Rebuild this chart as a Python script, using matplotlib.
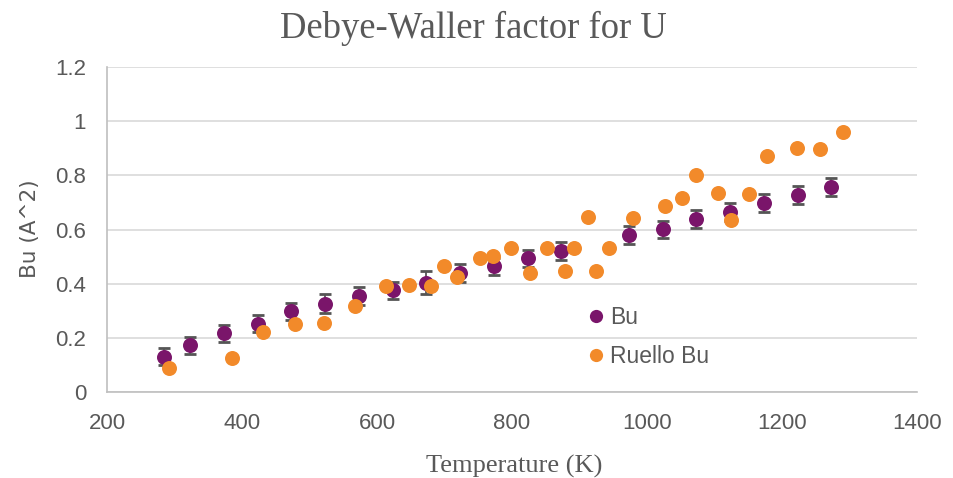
import matplotlib
matplotlib.use("Agg")
import matplotlib.pyplot as plt
from matplotlib.ticker import FuncFormatter
from matplotlib.lines import Line2D

# ---- data ----
bu_temp = [285, 323, 373, 423, 473, 523, 573, 623, 673, 723, 773, 823, 873, 973, 1023, 1073, 1123, 1173, 1223, 1273]
bu_val = [0.13, 0.172, 0.217, 0.252, 0.298, 0.326, 0.356, 0.375, 0.404, 0.44, 0.464, 0.494, 0.521, 0.58, 0.601, 0.638, 0.666, 0.697, 0.726, 0.757]
bu_err = [0.032, 0.032, 0.031, 0.032, 0.032, 0.036, 0.033, 0.032, 0.042, 0.032, 0.032, 0.031, 0.033, 0.032, 0.031, 0.033, 0.033, 0.034, 0.033, 0.032]

ruello_temp = [292, 385, 431, 478, 521, 567, 614, 648, 680, 700, 719, 753, 772, 798, 826, 852, 878, 892,
               912, 925, 944, 979, 1026, 1052, 1072, 1105, 1125, 1151, 1178, 1222, 1257, 1290]
ruello_val = [0.09, 0.125, 0.22, 0.251, 0.255, 0.318, 0.392, 0.395, 0.393, 0.466, 0.426, 0.496, 0.501, 0.53,
              0.438, 0.533, 0.447, 0.532, 0.646, 0.447, 0.531, 0.643, 0.688, 0.718, 0.8, 0.736, 0.634, 0.73,
              0.873, 0.902, 0.897, 0.96]

xticks = [200, 400, 600, 800, 1000, 1200, 1400]
yticks = [0, 0.2, 0.4, 0.6, 0.8, 1.0, 1.2]

title = "Debye-Waller factor for U"
xlabel = "Temperature (K)"
ylabel = "Bu (A^2)"
series_names = ["Bu", "Ruello Bu"]

# ---- style ----
purple = "#7a156a"
orange = "#f28a2a"
gray_text = "#595959"
ms = 10.8

fig = plt.figure(figsize=(9.54, 4.78), dpi=100)
ax = fig.add_axes([107 / 954, 1 - 392 / 478, (917 - 107) / 954, (392 - 67) / 478])

ax.errorbar(bu_temp, bu_val, yerr=bu_err, fmt="none", ecolor="#555555", elinewidth=1.3,
            capsize=4.4, capthick=2.0, zorder=3)
ax.plot(bu_temp, bu_val, "o", color=purple, markersize=ms, markeredgewidth=0, zorder=3.5)
ax.plot(ruello_temp, ruello_val, "o", color=orange, markersize=ms, markeredgewidth=0, zorder=4)

ax.set_xlim(200, 1400)
ax.set_ylim(0, 1.2)
ax.set_xticks(xticks)
ax.set_yticks(yticks)
ax.yaxis.set_major_formatter(FuncFormatter(lambda v, p: f"{v:g}"))

ax.grid(axis="y", color="#d9d9d9", linewidth=1.2, zorder=0)
ax.set_axisbelow(True)
for s in ["top", "right"]:
    ax.spines[s].set_visible(False)
for s in ["left", "bottom"]:
    ax.spines[s].set_color("#bfbfbf")
    ax.spines[s].set_linewidth(1.2)

ax.tick_params(axis="both", length=0, labelsize=16, labelcolor=gray_text)
ax.tick_params(axis="x", pad=15)
ax.tick_params(axis="y", pad=15)
for lab in ax.get_xticklabels() + ax.get_yticklabels():
    lab.set_family("Liberation Sans")

fig.text(473 / 954, 1 - 38 / 478, title, ha="center", va="baseline",
         family="Liberation Serif", fontsize=26.4, color=gray_text)
fig.text(514 / 954, 1 - 473 / 478, xlabel, ha="center", va="baseline",
         family="Liberation Serif", fontsize=19, color=gray_text)
fig.text(30 / 954, 1 - 229 / 478, ylabel, ha="center", va="center", rotation=90,
         family="DejaVu Sans", fontsize=15.5, color=gray_text)

handles = [Line2D([], [], marker="o", linestyle="none", color=purple, markeredgewidth=0, markersize=ms * 0.88),
           Line2D([], [], marker="o", linestyle="none", color=orange, markeredgewidth=0, markersize=ms * 0.88)]
leg = ax.legend(handles, series_names, loc="upper left",
                bbox_to_anchor=((585 - 107) / 810, (392 - 306) / 325),
                frameon=False, handletextpad=0.1, labelspacing=0.71, borderaxespad=0, borderpad=0,
                prop={"family": "Liberation Sans", "size": 16.5}, handlelength=1.0)
for t in leg.get_texts():
    t.set_color(gray_text)

fig.savefig("out.png", dpi=100)
